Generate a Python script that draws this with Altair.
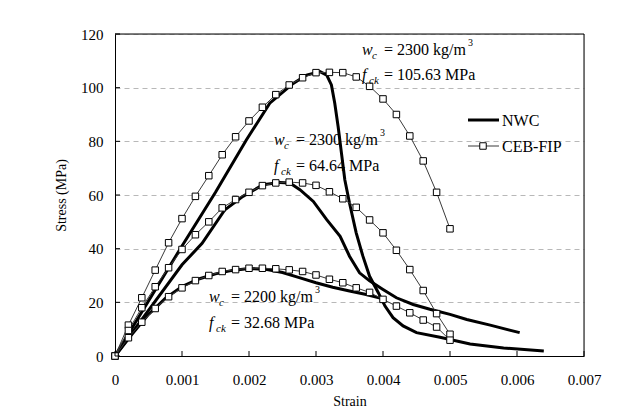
import altair as alt
import pandas as pd

# ---------------- data ----------------
ceb_strain = [0.0, 0.0002, 0.0004, 0.0006, 0.0008, 0.0010, 0.0012, 0.0014, 0.0016, 0.0018,
              0.0020, 0.0022, 0.0024, 0.0026, 0.0028, 0.0030, 0.0032, 0.0034, 0.0036, 0.0038,
              0.0040, 0.0042, 0.0044, 0.0046, 0.0048, 0.0050]
ceb_high = [0, 11.5, 21.7, 32.0, 42.2, 51.2, 59.5, 67.2, 75.0, 81.7,
            87.6, 92.7, 97.4, 101.0, 103.7, 105.6, 105.7, 105.6, 104.0, 100.5,
            95.8, 90.0, 82.0, 72.7, 61.0, 47.4]
ceb_mid = [0, 9.5, 18.0, 25.8, 32.9, 39.7, 45.2, 50.0, 55.2, 58.3,
           61.0, 63.5, 64.5, 64.8, 64.5, 63.6, 61.2, 58.6, 55.4, 50.7,
           45.9, 39.4, 32.2, 24.4, 15.8, 8.1]
ceb_low = [0, 6.8, 12.6, 17.7, 22.1, 25.4, 28.1, 30.0, 31.5, 32.2,
           32.7, 32.7, 32.5, 32.1, 31.5, 30.2, 28.6, 27.3, 25.4, 23.7,
           21.1, 18.6, 16.1, 13.4, 10.8, 5.9]

nwc_high_strain = [0, 0.0005, 0.0010, 0.0015, 0.00196, 0.00231, 0.00266, 0.00286, 0.00306,
                   0.00316, 0.00323, 0.00328, 0.00333, 0.00338, 0.00343, 0.0035, 0.0036,
                   0.0037, 0.0038, 0.00393, 0.00403, 0.00415, 0.0043, 0.0045, 0.00485,
                   0.0053, 0.0058, 0.0064]
nwc_high_stress = [0, 20.5, 41.0, 61.0, 80.5, 94.2, 101.6, 104.7, 106.0,
                   104.7, 101.0, 94.2, 85.5, 75.6, 65.7, 57.0, 45.9,
                   37.2, 29.7, 23.6, 18.6, 14.3, 11.2, 8.7, 7.0,
                   4.5, 3.0, 1.9]

nwc_mid_strain = [0, 0.0005, 0.0010, 0.0013, 0.00164, 0.00191, 0.00221, 0.00246, 0.00261,
                  0.00276, 0.00296, 0.00316, 0.00336, 0.0035, 0.00365, 0.0038, 0.0040,
                  0.0042, 0.00445, 0.0047, 0.0050, 0.00525, 0.0056, 0.00604]
nwc_mid_stress = [0, 17.0, 34.0, 42.0, 54.5, 59.5, 63.8, 64.7, 64.5,
                  62.0, 57.6, 50.8, 44.6, 37.2, 31.0, 28.0, 24.8,
                  21.7, 19.2, 17.4, 15.5, 13.6, 11.5, 8.7]

nwc_low_strain = [0, 0.00025, 0.0005, 0.00075, 0.0010, 0.00125, 0.0015, 0.00175, 0.0020,
                  0.00225, 0.0025, 0.00275, 0.0030, 0.00325, 0.0035, 0.00375, 0.0040]
nwc_low_stress = [0, 8.0, 15.5, 21.5, 25.9, 28.7, 30.6, 31.9, 32.6,
                  32.3, 31.1, 29.2, 27.3, 25.6, 24.2, 22.9, 21.3]

x_ticks = [0, 0.001, 0.002, 0.003, 0.004, 0.005, 0.006, 0.007]
y_ticks = [0, 20, 40, 60, 80, 100, 120]

legend_labels = ["NWC", "CEB-FIP"]

annotations = [
    ("w", "c", "= 2300 kg/m", "3"),
    ("f", "ck", "= 105.63 MPa", ""),
    ("w", "c", "= 2300 kg/m", "3"),
    ("f", "ck", "= 64.64 MPa", ""),
    ("w", "c", "= 2200 kg/m", "3"),
    ("f", "ck", "= 32.68 MPa", ""),
]

# ---------------- build table ----------------
rows = []
def add(strains, stresses, series, group):
    for i, (s, v) in enumerate(zip(strains, stresses)):
        rows.append({"strain": s, "stress": v, "series": series, "group": group, "idx": i})

add(ceb_strain, ceb_high, "CEB-FIP", "ceb_high")
add(ceb_strain, ceb_mid, "CEB-FIP", "ceb_mid")
add(ceb_strain, ceb_low, "CEB-FIP", "ceb_low")
add(nwc_high_strain, nwc_high_stress, "NWC", "nwc_high")
add(nwc_mid_strain, nwc_mid_stress, "NWC", "nwc_mid")
add(nwc_low_strain, nwc_low_stress, "NWC", "nwc_low")
df = pd.DataFrame(rows)

W, H = 469, 322
OX, OY = 115, 34  # plot origin on the page
FONT = "Liberation Serif"

xscale = alt.Scale(domain=[0, 0.007], nice=False)
yscale = alt.Scale(domain=[0, 120], nice=False)

x_axis = alt.Axis(values=x_ticks, title="Strain", grid=False, ticks=False,
                  labelExpr="datum.value == 0 ? '0' : format(datum.value, '.3f')",
                  labelFont=FONT, labelFontSize=15, labelColor="black",
                  labelPadding=16, titleFont=FONT, titleFontSize=14,
                  titleFontWeight="normal", titleColor="black", titlePadding=7,
                  domainColor="black", labelFlush=False)
y_axis = alt.Axis(values=y_ticks, title="Stress (MPa)", grid=True,
                  gridDash=[5, 4], gridColor="#b8b8b8", gridWidth=1, ticks=False,
                  labelFont=FONT, labelFontSize=15, labelColor="black",
                  labelPadding=12, titleFont=FONT, titleFontSize=14,
                  titleFontWeight="normal", titleColor="black", titlePadding=12,
                  domainColor="black")

x_enc = alt.X("strain:Q", scale=xscale, axis=x_axis)
y_enc = alt.Y("stress:Q", scale=yscale, axis=y_axis)

base = alt.Chart(df)

nwc = base.transform_filter(alt.datum.series == "NWC").mark_line(
    color="black", strokeWidth=3).encode(x=x_enc, y=y_enc, detail="group:N",
                                         order="idx:Q")
ceb_line = base.transform_filter(alt.datum.series == "CEB-FIP").mark_line(
    color="#3a3a3a", strokeWidth=1).encode(x=x_enc, y=y_enc, detail="group:N",
                                           order="idx:Q")
ceb_pts = base.transform_filter(alt.datum.series == "CEB-FIP").mark_point(
    shape="square", filled=True, fill="white", stroke="black", strokeWidth=1,
    size=42, opacity=1).encode(x=x_enc, y=y_enc)

# inward ticks
xt = alt.Chart(pd.DataFrame({"strain": x_ticks})).mark_rule(color="black").encode(
    x=x_enc, y=alt.value(H), y2=alt.value(H - 5))
yt = alt.Chart(pd.DataFrame({"stress": y_ticks})).mark_rule(color="black").encode(
    y=y_enc, x=alt.value(0), x2=alt.value(5))

dummy = pd.DataFrame({"a": [0]})

# plot frame (top and right edges)
frame = [
    alt.Chart(dummy).mark_rule(color="black", strokeWidth=1).encode(
        x=alt.value(0), x2=alt.value(W), y=alt.value(0)),
    alt.Chart(dummy).mark_rule(color="black", strokeWidth=1).encode(
        x=alt.value(W), y=alt.value(0), y2=alt.value(H)),
]

def txt(s, px, py, size, italic=False):
    return alt.Chart(dummy).mark_text(
        text=s, align="left", baseline="alphabetic", font=FONT, fontSize=size,
        fontStyle="italic" if italic else "normal", color="black").encode(
        x=alt.value(px - OX), y=alt.value(py - OY))

ann_pos = [(362, 55), (362, 80), (274, 145), (274, 171), (209, 302), (209, 328)]
ann_layers = []
for (main, sub, rest, sup), (px, py) in zip(annotations, ann_pos):
    ann_layers.append(txt(main, px, py, 16, True))
    ann_layers.append(txt(sub, px + (10 if main == "w" else 7), py + 4, 11, True))
    ann_layers.append(txt(rest, px + 22, py, 16))
    if sup:
        ann_layers.append(txt(sup, px + 22 + 84, py - 9, 10))

# legend (manual)
leg = [
    alt.Chart(dummy).mark_rule(color="black", strokeWidth=3).encode(
        x=alt.value(468 - OX), x2=alt.value(499 - OX), y=alt.value(120 - OY)),
    alt.Chart(dummy).mark_rule(color="#3a3a3a", strokeWidth=1).encode(
        x=alt.value(468 - OX), x2=alt.value(499 - OX), y=alt.value(146 - OY)),
    alt.Chart(dummy).mark_point(shape="square", filled=True, fill="white", stroke="black",
                                strokeWidth=1, size=42, opacity=1).encode(
        x=alt.value(483 - OX), y=alt.value(146 - OY)),
    txt(legend_labels[0], 502, 126, 16),
    txt(legend_labels[1], 502, 152, 16),
]

chart = alt.layer(nwc, ceb_line, ceb_pts, xt, yt, *frame, *ann_layers, *leg).properties(
    width=W, height=H,
    autosize=alt.AutoSizeParams(type="none"),
    padding={"left": OX - 8, "top": OY - 8, "right": 30, "bottom": 58},
).configure_view(stroke="black", strokeWidth=1).configure(
    background="white", font=FONT
).configure_axis(labelFont=FONT, titleFont=FONT).configure_text(font=FONT)

chart.save("out.html", embed_options={"renderer": "svg", "actions": False})
